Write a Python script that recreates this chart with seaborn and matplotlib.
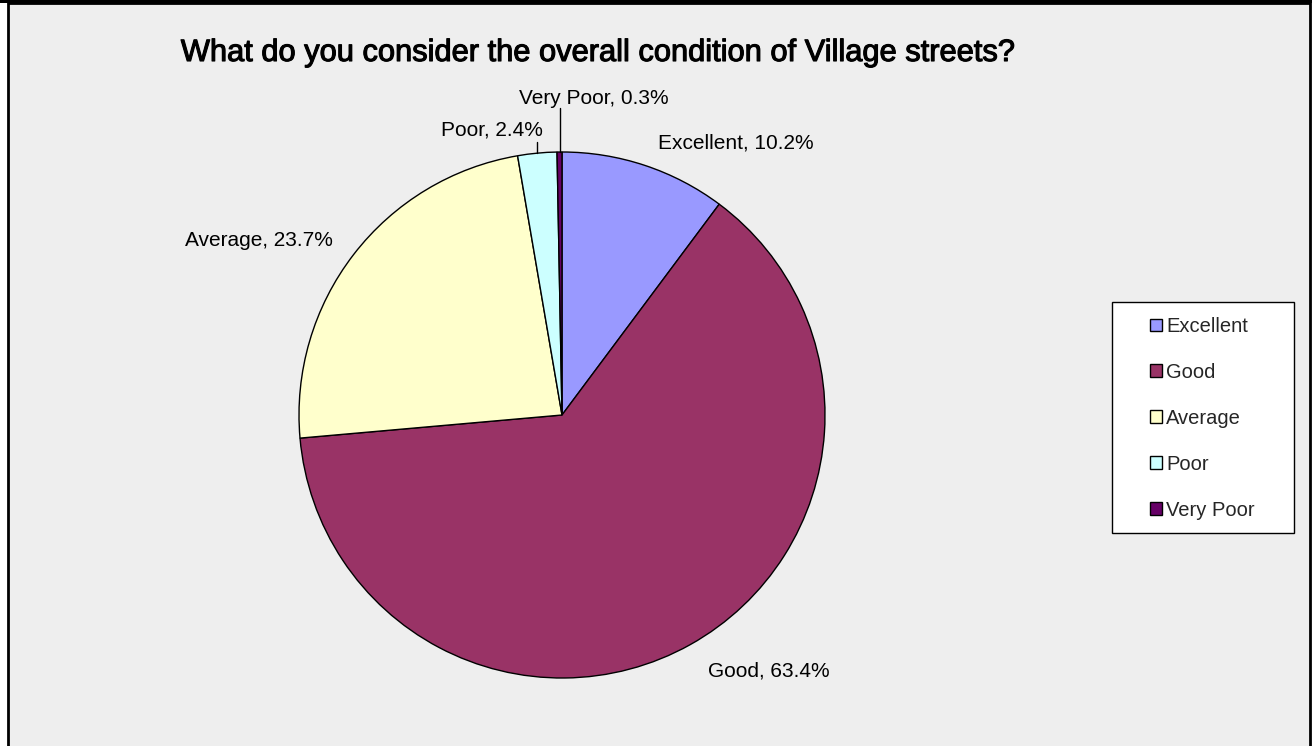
import matplotlib
matplotlib.use("Agg")
import matplotlib.pyplot as plt
import matplotlib.patches as mpatches
import matplotlib.patheffects as pe
import seaborn as sns
import numpy as np

categories = ["Excellent", "Good", "Average", "Poor", "Very Poor"]
values = [10.2, 63.4, 23.7, 2.4, 0.3]
colors = ["#9999FF", "#993366", "#FFFFCC", "#CCFFFF", "#660066"]
title = "What do you consider the overall condition of Village streets?"

sns.set_theme(style="white")
plt.rcParams["font.family"] = ["Liberation Sans", "DejaVu Sans"]

W, H = 1312, 746
fig = plt.figure(figsize=(W / 100, H / 100), dpi=100, facecolor="white")

# chart area frame
bg = fig.add_axes([0, 0, 1, 1], zorder=0)
bg.set_xlim(0, W)
bg.set_ylim(H, 0)
bg.axis("off")
bg.add_patch(mpatches.Rectangle((8, 3), 1302, 745, facecolor="#EEEEEE",
                                edgecolor="black", linewidth=2))
bg.add_patch(mpatches.Rectangle((0, 0), W, 3, facecolor="black", edgecolor="none"))
# legend frame
bg.add_patch(mpatches.Rectangle((1112, 302), 182, 231, facecolor="white",
                                edgecolor="black", linewidth=1))

# pie axes
cx, cy, r = 562, 415, 263
ax = fig.add_axes([(cx - r) / W, (H - cy - r) / H, 2 * r / W, 2 * r / H], zorder=1)
ax.set_facecolor("none")
wedges, _ = ax.pie(values, colors=colors, startangle=90, counterclock=False,
                   radius=1.0, wedgeprops=dict(edgecolor="black", linewidth=1.0))
ax.set_xlim(-1, 1)
ax.set_ylim(-1, 1)
ax.set_aspect("equal")
ax.axis("off")

# data labels
label_fs = 15
cum = np.cumsum([0] + values[:-1])
mids = [90 - (c + v / 2) * 3.6 for c, v in zip(cum, values)]
label_pos = {
    "Excellent": (0.365, 1.034, "left"),
    "Good": (0.555, -0.973, "left"),
    "Average": (-0.871, 0.665, "right"),
    "Poor": (-0.072, 1.084, "right"),
    "Very Poor": (0.122, 1.205, "center"),
}
for cat, v in zip(categories, values):
    x, y, ha = label_pos[cat]
    ax.text(x, y, f"{cat}, {v}%", ha=ha, va="center", fontsize=label_fs,
            color="black", clip_on=False)

# leader lines for small slices
for cat, y0 in (("Poor", 1.038), ("Very Poor", 1.167)):
    i = categories.index(cat)
    a = np.deg2rad(mids[i])
    xs = np.cos(a)
    ax.plot([xs, xs], [np.sin(a), y0], color="black", lw=1, clip_on=False)

# title
fig.text(599 / W, 1 - 53 / H, title, ha="center", va="center", fontsize=22.2,
         color="black",
         path_effects=[pe.withStroke(linewidth=0.8, foreground="black")])

# legend
handles = [mpatches.Patch(facecolor=c, edgecolor="black", linewidth=1) for c in colors]
leg = fig.legend(handles, categories, loc="upper left",
                 bbox_to_anchor=(1150 / W, 1 - 317 / H), frameon=False,
                 fontsize=14.5, handlelength=0.6, handleheight=0.6,
                 handletextpad=0.2, labelspacing=1.34, borderpad=0,
                 borderaxespad=0)
leg.set_zorder(3)

fig.savefig("out.png", dpi=100, facecolor="white")
